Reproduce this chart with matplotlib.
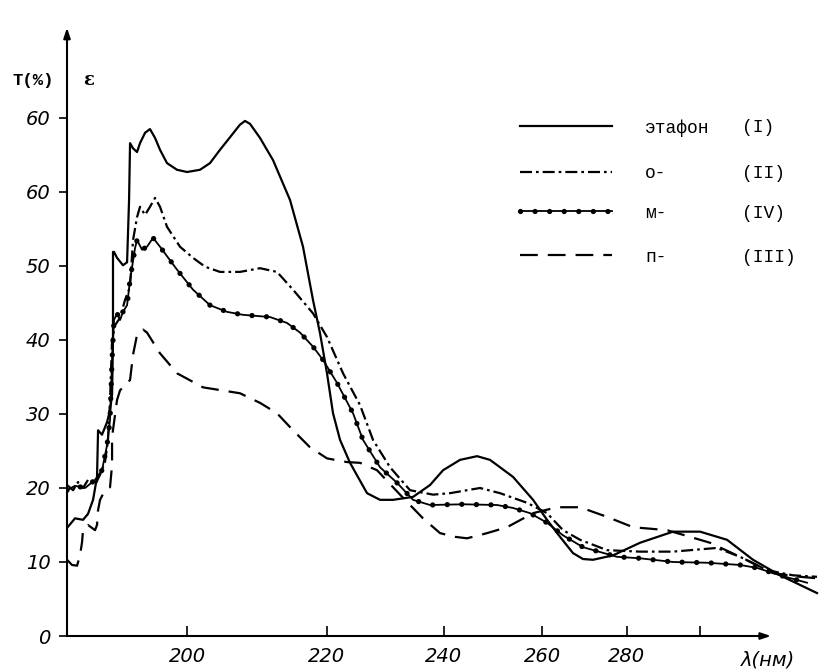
import numpy as np
import matplotlib
matplotlib.use("Agg")
import matplotlib.pyplot as plt
from matplotlib.lines import Line2D

# ---------------- data (wavelength nm, value) ----------------
lam_I = [185.53, 186.43, 187.34, 187.91, 188.49, 188.95, 189.07, 189.53, 190.12, 190.47,
         190.71, 190.82, 190.82, 190.94, 191.30, 192.01, 192.50, 192.74, 192.86, 193.22,
         193.71, 194.07, 194.69, 195.30, 195.93, 196.55, 197.43, 198.71, 200.0, 201.70,
         203.03, 204.38, 205.75, 207.13, 207.83, 208.54, 209.96, 211.84, 214.35, 216.30,
         217.83, 218.92, 220.01, 220.96, 222.08, 223.69, 226.49, 228.68, 230.91, 234.43,
         237.50, 239.91, 243.13, 246.44, 249.03, 253.75, 258.01, 261.07, 263.98, 266.95,
         269.29, 271.67, 276.55, 283.43, 292.31, 300.0, 308.11, 316.34, 325.37, 338.61]
val_I = [14.6, 15.9, 15.7, 16.5, 18.4, 21.5, 27.8, 27.2, 28.9, 30.5,
         32.6, 40.0, 51.9, 51.9, 51.1, 50.1, 50.5, 58.9, 66.6, 65.9,
         65.4, 66.6, 68.0, 68.5, 67.3, 65.7, 63.9, 63.0, 62.7, 63.0,
         63.9, 65.7, 67.4, 69.1, 69.6, 69.2, 67.3, 64.3, 58.9, 52.6,
         45.4, 40.9, 35.5, 30.1, 26.5, 23.4, 19.3, 18.4, 18.4, 18.8,
         20.4, 22.4, 23.8, 24.3, 23.8, 21.5, 18.4, 15.7, 13.4, 11.2,
         10.4, 10.3, 10.9, 12.6, 14.1, 14.1, 13.0, 10.3, 8.2, 5.8]

lam_II = [185.53, 186.21, 186.77, 187.34, 187.91, 188.72, 189.30, 189.88, 190.23, 190.47,
          190.71, 191.06, 191.66, 192.25, 192.86, 193.22, 193.71, 194.07, 194.69, 195.30,
          195.93, 196.55, 197.43, 199.09, 200.78, 202.37, 204.38, 207.13, 209.96, 212.42,
          214.79, 217.83, 220.01, 222.56, 225.33, 227.49, 230.39, 233.89, 238.05, 241.22,
          247.03, 251.06, 256.71, 261.07, 264.66, 268.59, 275.07, 283.43, 292.31, 305.05,
          312.17, 320.96, 329.90, 338.61]
val_II = [20.4, 19.7, 20.8, 20.0, 21.1, 20.4, 21.8, 23.5, 26.5, 31.9,
          40.0, 42.0, 43.0, 45.4, 47.2, 53.5, 56.6, 58.0, 56.9, 58.0,
          59.2, 58.0, 55.3, 52.6, 51.1, 49.9, 49.2, 49.2, 49.7, 49.2,
          46.8, 43.6, 40.4, 35.5, 31.2, 26.5, 22.8, 19.7, 19.1, 19.3,
          20.0, 19.3, 18.0, 16.6, 14.3, 13.0, 11.6, 11.4, 11.4, 11.9,
          10.7, 8.9, 8.2, 8.0]

lam_IV = [185.53, 186.43, 187.57, 188.72, 189.53, 190.12, 190.47, 190.71, 190.94, 191.30,
          191.66, 192.01, 192.50, 192.86, 193.46, 193.71, 194.32, 194.93, 195.68, 196.55,
          198.71, 200.78, 203.03, 205.34, 207.55, 211.40, 213.90, 215.85, 217.83, 219.39,
          221.60, 224.18, 225.82, 228.68, 231.60, 234.43, 237.50, 243.71, 250.45, 253.75,
          257.36, 261.07, 264.66, 269.29, 277.55, 283.43, 292.31, 302.06, 312.17, 317.65,
          325.37, 334.93]
val_IV = [19.7, 20.3, 20.0, 21.1, 22.4, 25.8, 29.2, 37.3, 42.7, 43.6,
          42.7, 43.8, 44.7, 48.1, 52.4, 53.5, 52.2, 52.6, 53.8, 52.6,
          49.5, 46.8, 44.7, 43.8, 43.4, 43.1, 42.3, 41.0, 39.1, 37.3,
          34.2, 30.1, 26.5, 22.8, 20.7, 18.4, 17.7, 17.8, 17.7, 17.3,
          16.6, 15.3, 13.6, 12.0, 10.7, 10.5, 10.0, 9.9, 9.6, 9.2,
          8.2, 7.2]

lam_III = [185.53, 186.09, 186.66, 187.0, 187.23, 187.34, 187.91, 188.72, 188.95, 189.07,
           189.30, 189.88, 190.47, 190.71, 190.71, 191.30, 191.66, 192.25, 192.86, 193.22,
           193.71, 194.44, 194.93, 196.55, 198.71, 202.10, 207.13, 209.96, 212.42, 214.79,
           217.37, 220.01, 223.21, 225.33, 228.17, 232.13, 236.22, 239.35, 242.17, 244.48,
           248.43, 252.50, 258.01, 263.30, 268.59, 275.07, 281.61, 290.65, 297.10, 302.95,
           312.17, 322.98, 332.40, 338.61]
val_III = [10.3, 9.6, 9.5, 10.9, 12.7, 14.3, 15.0, 14.3, 15.0, 17.0,
           18.4, 19.7, 20.1, 23.1, 26.9, 31.9, 33.2, 33.9, 34.6, 38.0,
           40.7, 41.4, 41.0, 38.2, 35.5, 33.6, 32.8, 31.5, 30.1, 27.8,
           25.5, 24.0, 23.5, 23.4, 22.4, 19.1, 15.9, 13.9, 13.4, 13.2,
           13.9, 14.7, 16.6, 17.4, 17.4, 16.1, 14.7, 14.3, 13.4, 12.6,
           10.7, 8.5, 8.0, 7.8]

x_ticks = [200, 220, 240, 260, 280, 300]
x_tick_labels = ["200", "220", "240", "260", "280", ""]
y_ticks = [0, 10, 20, 30, 40, 50, 60, 70]
y_tick_labels = ["0", "10", "20", "30", "40", "50", "60", "60"]

legend_names = ["этафон", "о-", "м-", "п-"]
legend_nums = ["(I)", "(II)", "(IV)", "(III)"]

# ---------------- figure ----------------
W, H = 821, 670
fig = plt.figure(figsize=(W / 100, H / 100), dpi=100)
fig.patch.set_facecolor("white")

ax_left, ax_right = 67, 821
ax_bottom, ax_top = 636, 20
ax = fig.add_axes([ax_left / W, 1 - ax_bottom / H, (ax_right - ax_left) / W, (ax_bottom - ax_top) / H])


def fwd(x):
    x = np.asarray(x, dtype=float)
    with np.errstate(divide="ignore", invalid="ignore"):
        return -1.0 / x


def inv(y):
    y = np.asarray(y, dtype=float)
    with np.errstate(divide="ignore", invalid="ignore"):
        return -1.0 / y


ax.set_xscale("function", functions=(fwd, inv))
x_min, x_max = 185.53, 340.1
y_min, y_max = 0, 83.24
ax.set_xlim(x_min, x_max)
ax.set_ylim(y_min, y_max)

lw = 1.6
dashdot = [5.4, 1.8, 1.2, 1.8]
longdash = [8, 4.5]
dot_lw = 3.8
dot_pattern = [0.01, 2.75]

ax.plot(lam_I, val_I, color="black", lw=lw, solid_joinstyle="round", zorder=3)
ax.plot(lam_II, val_II, color="black", lw=lw, dashes=dashdot, zorder=3)
ax.plot(lam_IV, val_IV, color="black", lw=1.3, zorder=3)
ax.plot(lam_IV, val_IV, color="black", lw=dot_lw, dashes=dot_pattern,
        dash_capstyle="round", zorder=3)
ax.plot(lam_III, val_III, color="black", lw=lw, dashes=longdash, zorder=3)

for s in ax.spines.values():
    s.set_visible(False)

# axes with arrows
x_arrow_end = 322.3
y_arrow_end = 82.2
ax.annotate("", xy=(x_arrow_end, 0), xytext=(x_min, 0), xycoords="data",
            arrowprops=dict(arrowstyle="-|>,head_length=0.6,head_width=0.2", lw=1.5, color="black",
                            shrinkA=0, shrinkB=0), annotation_clip=False)
ax.annotate("", xy=(x_min, y_arrow_end), xytext=(x_min, 0), xycoords="data",
            arrowprops=dict(arrowstyle="-|>,head_length=0.6,head_width=0.2", lw=1.5, color="black",
                            shrinkA=0, shrinkB=0), annotation_clip=False)

tick_font = dict(family="DejaVu Sans", style="italic", size=14)
ax.set_xticks(x_ticks)
ax.set_xticklabels(x_tick_labels, **tick_font)
ax.set_xticks([], minor=True)
ax.set_yticks(y_ticks)
ax.set_yticklabels(y_tick_labels, **tick_font)
ax.tick_params(axis="x", direction="in", length=7, width=1.2, pad=8)
ax.tick_params(axis="y", direction="out", length=6, width=1.2, pad=6)

# axis labels
fig.text(741 / W, 1 - 660 / H, "λ(нм)", ha="left", va="center",
         family="DejaVu Sans", style="italic", size=14)
fig.text(33 / W, 1 - 80 / H, "T(%)", ha="center", va="center",
         family="Liberation Mono", weight="bold", size=12.5)
fig.text(89 / W, 1 - 80 / H, "ε", ha="center", va="center",
         family="DejaVu Serif", weight="bold", size=13)

# legend (hand placed)
rows_y = [126, 172, 211, 255]
for i, (yy, name, num) in enumerate(zip(rows_y, legend_names, legend_nums)):
    xs = np.array([520, 612]) / W
    ys = np.full_like(xs, 1 - yy / H)
    if i == 0:
        arts = [Line2D(xs, ys, lw=lw)]
    elif i == 1:
        arts = [Line2D(xs, ys, lw=lw, dashes=dashdot)]
    elif i == 2:
        arts = [Line2D(xs, ys, lw=1.3),
                Line2D(xs, ys, lw=dot_lw, dashes=dot_pattern, dash_capstyle="round")]
    else:
        arts = [Line2D(xs, ys, lw=lw, dashes=longdash)]
    for a in arts:
        a.set_color("black")
        a.set_transform(fig.transFigure)
        fig.add_artist(a)
    fig.text(645 / W, 1 - (yy + 2) / H, name, ha="left", va="center",
             family="Liberation Mono", size=13)
    fig.text(742 / W, 1 - (yy + 2) / H, num, ha="left", va="center",
             family="Liberation Mono", size=13)

fig.savefig("out.png", dpi=100, facecolor="white")
